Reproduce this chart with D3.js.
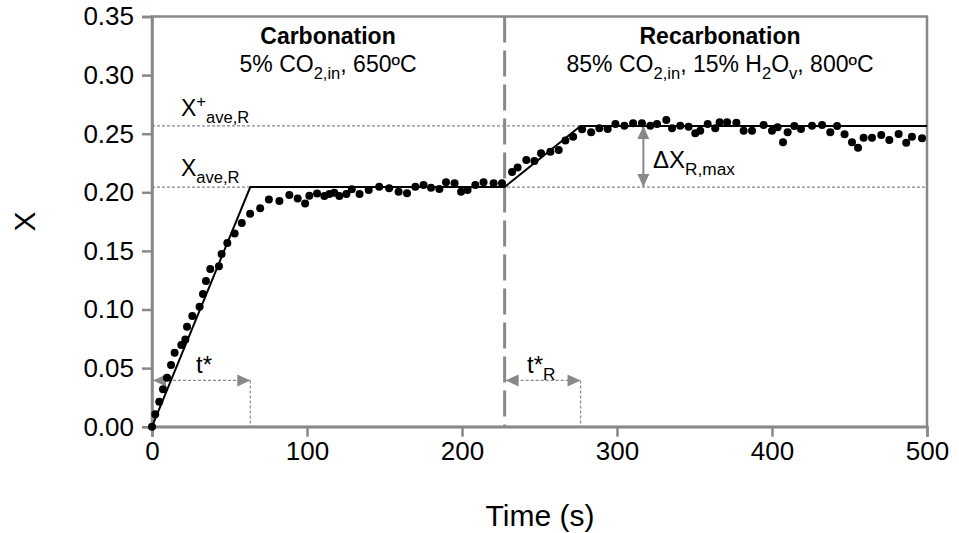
<!DOCTYPE html>
<html>
<head>
<meta charset="utf-8">
<script src="https://cdn.jsdelivr.net/npm/d3@7"></script>
<style>
  body { margin: 0; background: #fff; }
  svg { font-family: "Liberation Sans", Arial, sans-serif; }
</style>
</head>
<body>
<svg width="959" height="533"></svg>
<script>
// measured points (time in s, conversion X)
const timeS = [0, 2.1, 4.7, 7.1, 9.7, 12.3, 14.6, 18.9, 21.5, 22.6, 26.0, 30.7, 32.9, 34.8, 37.6, 43.2, 44.9, 48.6, 53.3, 57.9,
  63.3, 69.8, 75.4, 82.2, 88.6, 94.0, 98.8, 101.5, 106.5, 111.2, 114.4, 117.6, 120.9, 125.4, 128.9, 133.9, 139.8,
  146.6, 153.0, 159.1, 164.5, 169.9, 175.2, 180.0, 185.4, 189.7, 195.2, 199.4, 203.6, 208.6, 213.9, 220.4, 225.8,
  232.3, 235.9, 241.5, 246.7, 251.0, 257.0, 262.4, 266.7, 271.7, 277.5, 283.3, 288.6, 294.0, 299.0, 304.8, 310.4,
  316.1, 321.5, 325.8, 331.8, 335.5, 340.8, 346.2, 350.5, 353.7, 358.5, 363.4, 366.2, 371.0, 377.0, 381.7, 387.1,
  394.6, 400.0, 403.6, 407.1, 410.1, 414.4, 418.7, 425.8, 432.3, 437.6, 442.0, 446.8, 451.6, 455.5, 459.1, 464.5,
  470.5, 475.7, 481.7, 486.6, 490.3, 496.8]
const xVals = [0, 0.0106, 0.0213, 0.0319, 0.0418, 0.0527, 0.0631, 0.0697, 0.0745, 0.0853, 0.0944, 0.1024, 0.1132, 0.1243, 0.1345, 0.1370, 0.1473, 0.1568, 0.1648, 0.1738,
  0.1818, 0.1863, 0.1939, 0.1925, 0.1976, 0.1948, 0.1905, 0.1970, 0.1990, 0.1968, 0.1985, 0.1996, 0.1968, 0.1985, 0.2025, 0.1985, 0.2019,
  0.2048, 0.2034, 0.2005, 0.1991, 0.2048, 0.2062, 0.2039, 0.2028, 0.2085, 0.2077, 0.2005, 0.2020, 0.2062, 0.2085, 0.2077, 0.2077,
  0.2174, 0.2211, 0.2275, 0.2267, 0.2333, 0.2347, 0.2361, 0.2441, 0.2475, 0.2538, 0.2512, 0.2546, 0.2540, 0.2583, 0.2568, 0.2589,
  0.2589, 0.2568, 0.2583, 0.2617, 0.2546, 0.2568, 0.2560, 0.2503, 0.2526, 0.2583, 0.2546, 0.2597, 0.2597, 0.2594, 0.2526, 0.2526,
  0.2574, 0.2526, 0.2555, 0.2426, 0.2512, 0.2566, 0.2540, 0.2568, 0.2574, 0.2512, 0.2566, 0.2495, 0.2427, 0.2381, 0.2466, 0.2466,
  0.2489, 0.2446, 0.2497, 0.2423, 0.2474, 0.2461]

// piecewise model line
const fitT = [0, 63.4, 227.5, 276.5, 500]
const fitX = [0, 0.2045, 0.2045, 0.2566, 0.2566]

const xAve = 0.2045, xAveR = 0.2566, tSwitch = 227.5, tStar = 63.4, tStarR = 276.5
const arrowY = 0.0395, deltaT = 317

const xTicks = [0, 100, 200, 300, 400, 500]
const yTicks = [0, 0.05, 0.10, 0.15, 0.20, 0.25, 0.30, 0.35]

const svg = d3.select("svg")
const gray = "#888888"

const x = d3.scaleLinear().domain([0, 500]).range([152, 927])
const y = d3.scaleLinear().domain([0, 0.35]).range([426.7, 16.5])

// frame
svg.append("rect")
  .attr("x", x(0)).attr("y", y(0.35))
  .attr("width", x(500) - x(0)).attr("height", y(0) - y(0.35))
  .attr("fill", "none").attr("stroke", gray).attr("stroke-width", 2.5)

const xAxis = svg.append("g").attr("transform", `translate(0,${y(0)})`)
  .call(d3.axisBottom(x).tickValues(xTicks).tickSize(10).tickPadding(5).tickFormat(d3.format("d")))
const yAxis = svg.append("g").attr("transform", `translate(${x(0)},0)`)
  .call(d3.axisLeft(y).tickValues(yTicks).tickSize(10).tickPadding(8).tickFormat(d3.format(".2f")))
;[xAxis, yAxis].forEach(a => {
  a.select(".domain").attr("stroke", gray).attr("stroke-width", 2.5)
  a.selectAll(".tick line").attr("stroke", gray).attr("stroke-width", 2.5)
  a.selectAll("text").attr("font-size", 26).attr("fill", "#000")
    .attr("font-family", "Liberation Sans, Arial, sans-serif")
})

// dotted reference levels
;[xAve, xAveR].forEach(v => {
  svg.append("line")
    .attr("x1", x(0)).attr("x2", x(500)).attr("y1", y(v)).attr("y2", y(v))
    .attr("stroke", gray).attr("stroke-width", 1.2).attr("stroke-dasharray", "3,2")
})

// switch line
svg.append("line")
  .attr("x1", x(tSwitch)).attr("x2", x(tSwitch)).attr("y1", y(0.35)).attr("y2", y(0))
  .attr("stroke", gray).attr("stroke-width", 3).attr("stroke-dasharray", "26,8")

// t* arrows
;[[0, tStar], [tSwitch, tStarR]].forEach(([a, b]) => {
  svg.append("line")
    .attr("x1", x(a) + 1).attr("x2", x(b)).attr("y1", y(arrowY)).attr("y2", y(arrowY))
    .attr("stroke", gray).attr("stroke-width", 1.2).attr("stroke-dasharray", "3,2")
  svg.append("path").attr("d", `M${x(a) + 1},${y(arrowY)}l13,-6v12z`).attr("fill", gray)
  svg.append("path").attr("d", `M${x(b)},${y(arrowY)}l-13,-6v12z`).attr("fill", gray)
  svg.append("line")
    .attr("x1", x(b)).attr("x2", x(b)).attr("y1", y(arrowY)).attr("y2", y(0))
    .attr("stroke", gray).attr("stroke-width", 1.2).attr("stroke-dasharray", "3,2")
})

// delta X arrow
svg.append("line")
  .attr("x1", x(deltaT)).attr("x2", x(deltaT)).attr("y1", y(xAveR)).attr("y2", y(xAve))
  .attr("stroke", gray).attr("stroke-width", 2)
svg.append("path").attr("d", `M${x(deltaT)},${y(xAveR)}l-6,13h12z`).attr("fill", gray)
svg.append("path").attr("d", `M${x(deltaT)},${y(xAve)}l-6,-13h12z`).attr("fill", gray)

// model line
const fit = fitT.map((t, i) => [t, fitX[i]])
svg.append("path").datum(fit)
  .attr("d", d3.line().x(d => x(d[0])).y(d => y(d[1])))
  .attr("fill", "none").attr("stroke", "#000").attr("stroke-width", 2)

// data points
svg.append("g").selectAll("circle")
  .data(timeS.map((t, i) => [t, xVals[i]]))
  .join("circle")
  .attr("cx", d => x(d[0])).attr("cy", d => y(d[1])).attr("r", 4).attr("fill", "#000")

// text with sub/superscripts: parts = [text, "n"|"sub"|"sup"]
function rich(px, py, parts, size, anchor, weight) {
  const t = svg.append("text").attr("x", px).attr("y", py)
    .attr("font-size", size).attr("text-anchor", anchor || "start")
    .attr("font-weight", weight || "normal").attr("fill", "#000")
  let shift = 0
  parts.forEach(([s, k]) => {
    const target = k === "sub" ? size * 0.3 : k === "sup" ? -size * 0.38 : 0
    t.append("tspan").attr("dy", target - shift)
      .attr("font-size", k === "n" ? size : size * 0.72).text(s)
    shift = target
  })
  return t
}

rich(328, 44, [["Carbonation", "n"]], 23, "middle", "bold")
rich(328, 72, [["5% CO", "n"], ["2,in", "sub"], [", 650ºC", "n"]], 23, "middle")
rich(720, 44, [["Recarbonation", "n"]], 23, "middle", "bold")
rich(720, 72, [["85% CO", "n"], ["2,in", "sub"], [", 15% H", "n"], ["2", "sub"], ["O", "n"], ["v", "sub"], [", 800ºC", "n"]], 23, "middle")

rich(181, 116, [["X", "n"], ["+", "sup"], ["ave,R", "sub"]], 23)
rich(181, 176, [["X", "n"], ["ave,R", "sub"]], 23)
rich(653, 168, [["ΔX", "n"], ["R,max", "sub"]], 24)
rich(196, 373, [["t*", "n"]], 24)
rich(527, 373, [["t*", "n"], ["R", "sub"]], 24)

// axis titles
svg.append("text").attr("x", 540).attr("y", 526).attr("text-anchor", "middle")
  .attr("font-size", 30).text("Time (s)")
svg.append("text").attr("transform", `translate(35,${y(0.175)}) rotate(-90)`)
  .attr("text-anchor", "middle").attr("font-size", 30).text("X")
</script>
</body>
</html>
